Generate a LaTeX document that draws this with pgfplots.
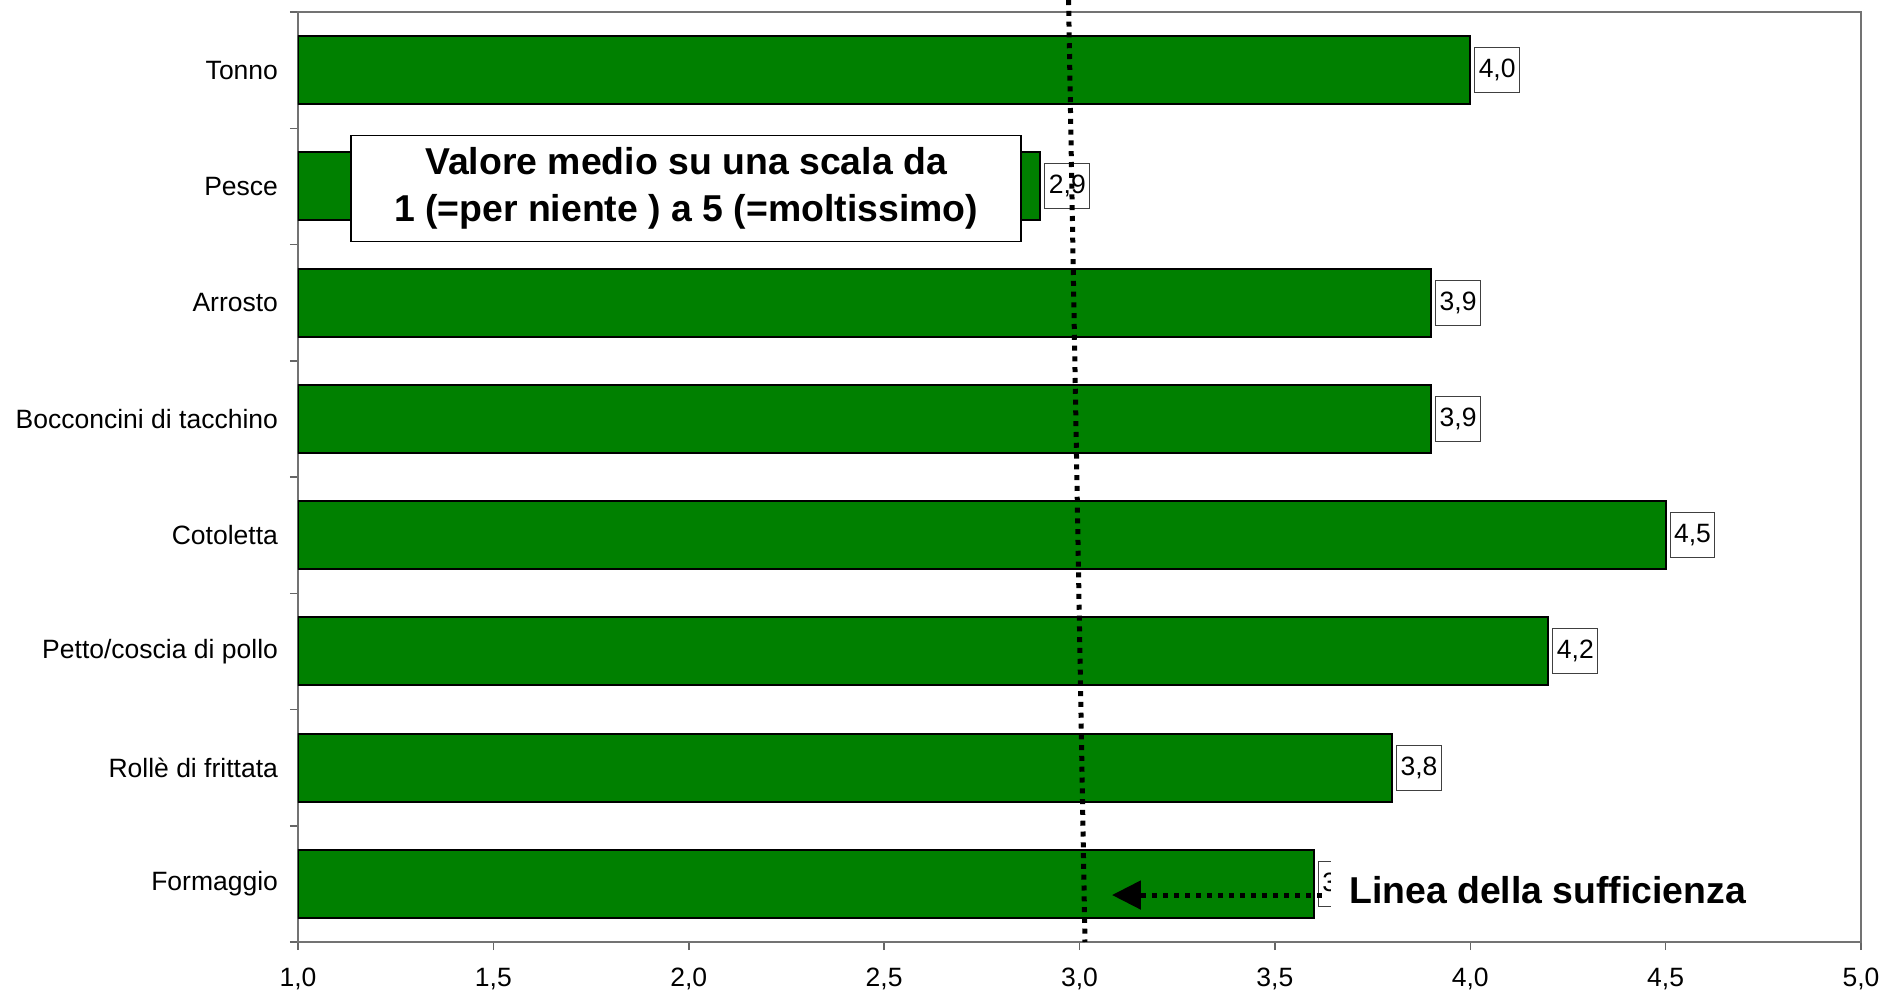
\documentclass[border=0pt]{standalone}
\usepackage{fontspec}
\setmainfont{Liberation Sans}
\usepackage{pgfplots}
\pgfplotsset{compat=1.18}
\usetikzlibrary{arrows.meta}
\definecolor{barg}{RGB}{0,128,0}

\begin{document}
\begin{tikzpicture}
\path[use as bounding box] (-149pt,-26.5pt) rectangle (800.5pt,471pt);
\begin{axis}[
    at={(0,0)}, anchor=south west,
    scale only axis,
    width=781.5pt, height=465pt,
    xbar, bar width=34pt,
    xmin=1, xmax=5,
    ymin=-0.5, ymax=7.5,
    xtick={1,1.5,...,5},
    ytick={0,...,7},
    yticklabels={Formaggio,Rollè di frittata,Petto/coscia di pollo,Cotoletta,Bocconcini di tacchino,Arrosto,Pesce,Tonno},
    minor ytick={-0.5,0.5,...,7.5},
    xtick pos=bottom, ytick pos=left,
    tick align=outside,
    major tick length=4pt, minor tick length=4pt,
    tick style={draw=black!60, line width=0.75pt},
    every major y tick/.append style={draw=none},
    axis line style={black!55, line width=0.75pt},
    /pgf/number format/assume math mode=true,
    ticklabel style={font=\fontsize{13.25}{15.9}\selectfont},
    xticklabel style={yshift=-5.5pt, /pgf/number format/.cd, use comma, fixed, fixed zerofill, precision=1},
    yticklabel style={xshift=-2.5pt},
    nodes near coords={\pgfmathprintnumber[use comma,fixed,fixed zerofill,precision=1]{\pgfplotspointmeta}},
    nodes near coords style={font=\fontsize{13.25}{15.9}\selectfont, anchor=west, xshift=2pt,
        draw=black!75, line width=0.5pt, fill=white, inner xsep=2pt, minimum height=22.5pt},
]
\addplot[fill=barg, draw=black, line width=1pt] coordinates {
    (3.6,0) (3.8,1) (4.2,2) (4.5,3) (3.9,4) (3.9,5) (2.9,6) (4.0,7)};
\coordinate (ltop) at (axis cs:2.972,7.603);
\coordinate (lbot) at (axis cs:3.014,-0.5);
\coordinate (astart) at (axis cs:3.62,-0.096);
\coordinate (aend) at (axis cs:3.083,-0.096);
\coordinate (tpos) at (axis cs:3.643,-0.17);
\coordinate (bpos) at (axis cs:1.993,5.98);
\end{axis}
\node[draw=black, line width=0.75pt, fill=white, minimum width=335pt, minimum height=53pt,
      align=center, font=\bfseries\fontsize{18.7}{23.6}\selectfont] at (bpos)
      {Valore medio su una scala da\\1 (=per niente ) a 5 (=moltissimo)};
\draw[black, line width=2.5pt, dash pattern=on 2.5pt off 2.9pt] (ltop) -- (lbot);
\draw[black, line width=2.5pt, dash pattern=on 2.5pt off 3pt, -{Triangle[length=14.5pt,width=14pt]}] (astart) -- (aend);
\node[anchor=base west, fill=white, inner xsep=9pt, inner ysep=8pt,
      font=\bfseries\fontsize{18.7}{22}\selectfont] at (tpos) {Linea della sufficienza};
\end{tikzpicture}
\end{document}
